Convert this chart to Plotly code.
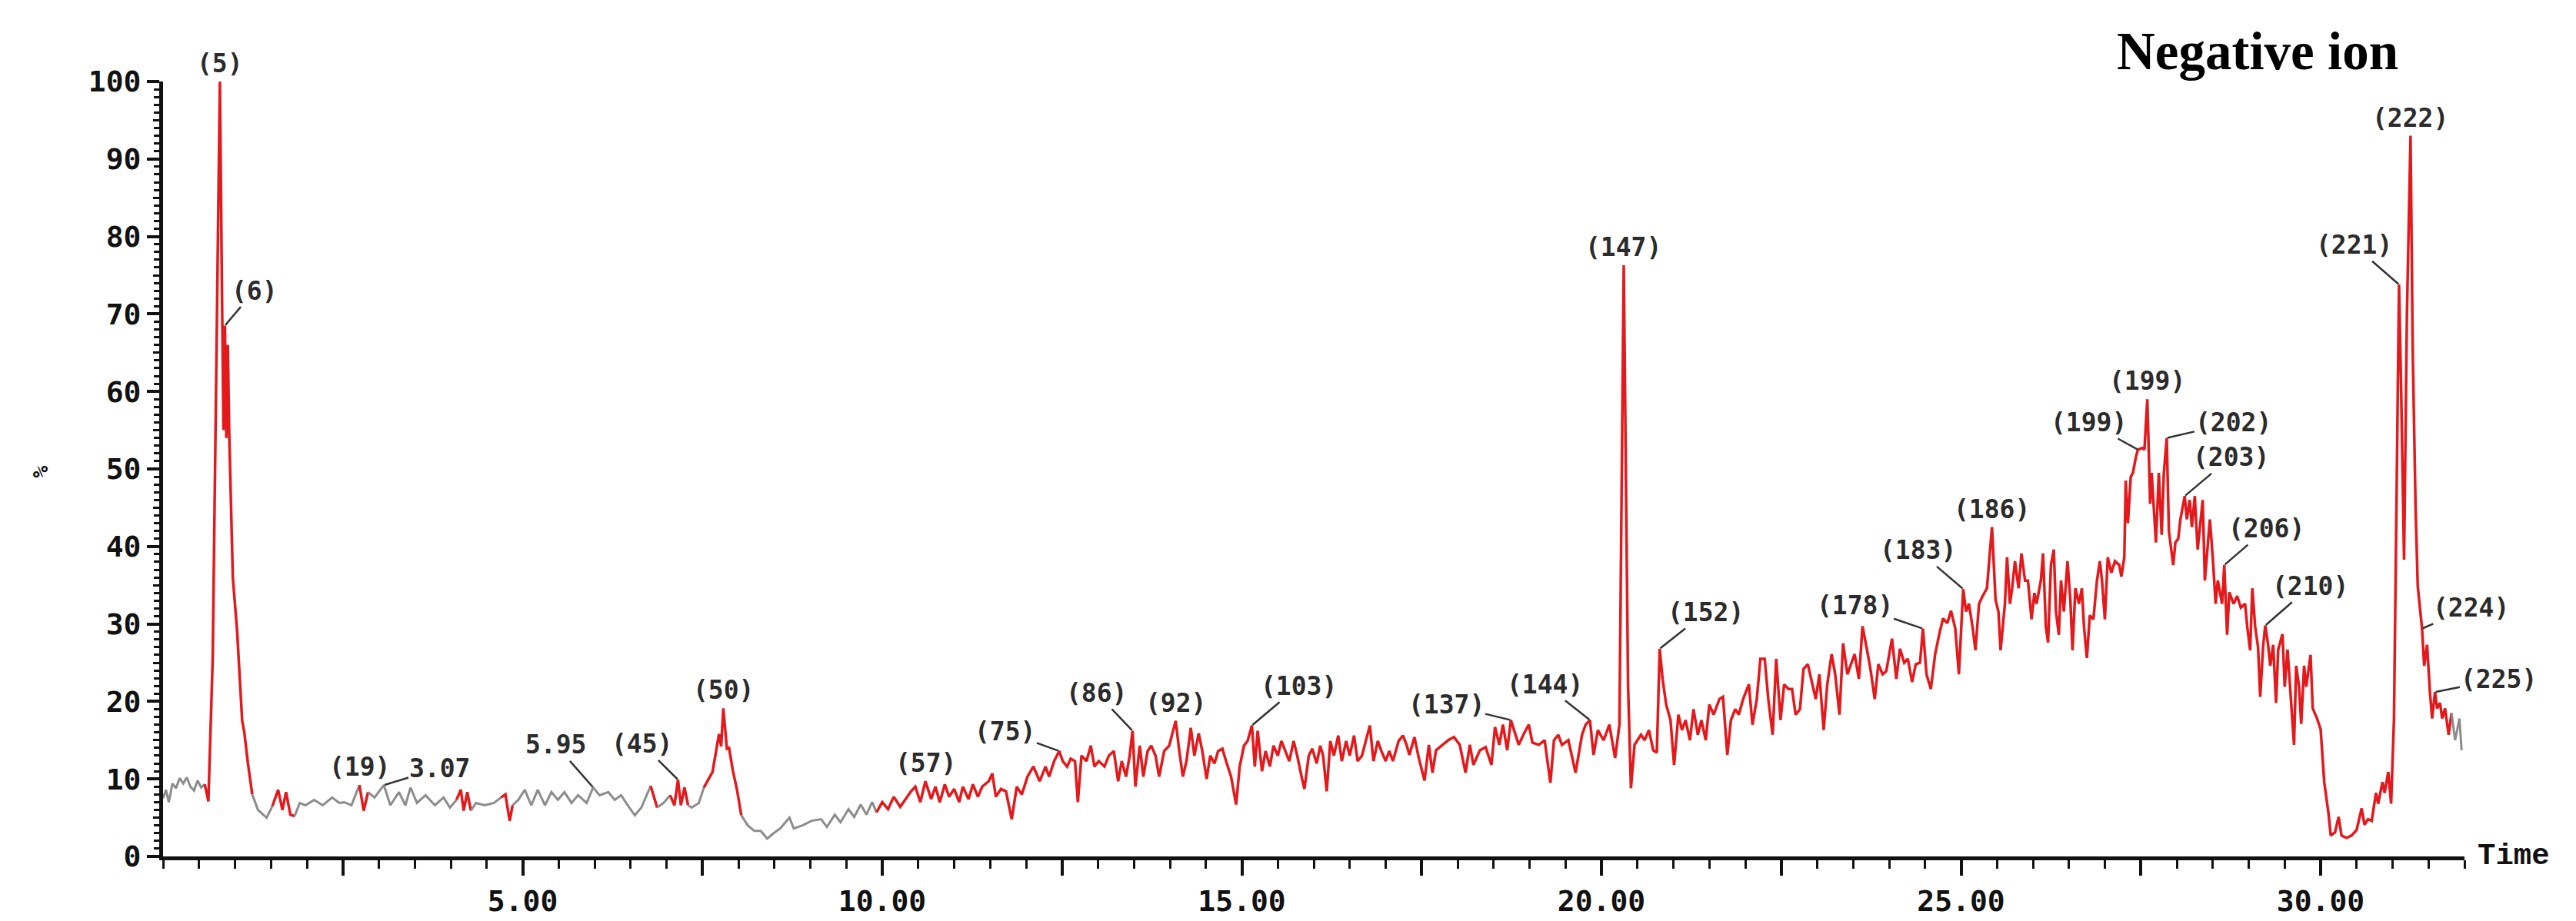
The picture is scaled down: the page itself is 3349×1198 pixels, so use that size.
import plotly.graph_objects as go

# ---------------- data (time in min, relative abundance %) ----------------
trace_0_10 = [
    (0.00, 7.5), (0.04, 8.6), (0.08, 7.0), (0.13, 9.4), (0.18, 8.8), (0.23, 10.1), (0.28, 9.4),
    (0.33, 10.2), (0.38, 9.0), (0.43, 8.5), (0.48, 9.8), (0.53, 8.9), (0.58, 9.3), (0.63, 7.1),
    (0.69, 25.5), (0.79, 100.0), (0.82, 72.0), (0.84, 55.0), (0.86, 68.5), (0.88, 54.0), (0.90, 66.0),
    (0.92, 54.5), (0.97, 36.0), (1.03, 29.0), (1.10, 17.5), (1.13, 16.0), (1.18, 12.0), (1.24, 8.0),
    (1.32, 6.0), (1.44, 5.0), (1.52, 6.5), (1.60, 8.6), (1.66, 6.0), (1.71, 8.3), (1.77, 5.4),
    (1.83, 5.2), (1.90, 6.9), (1.98, 6.6), (2.10, 7.3), (2.22, 6.6), (2.35, 7.6), (2.45, 6.9),
    (2.52, 7.0), (2.62, 6.6), (2.73, 9.2), (2.79, 5.9), (2.85, 8.3), (2.94, 7.6), (3.07, 9.2),
    (3.16, 6.6), (3.28, 8.3), (3.37, 6.6), (3.44, 8.9), (3.53, 6.9), (3.65, 7.9), (3.78, 6.6),
    (3.90, 7.6), (3.99, 6.3), (4.08, 7.3), (4.14, 8.6), (4.18, 5.9), (4.23, 8.3), (4.28, 5.9),
    (4.35, 6.9), (4.47, 6.6), (4.60, 6.9), (4.70, 7.6), (4.76, 8.0), (4.82, 4.6), (4.86, 6.6),
    (4.94, 7.3), (5.03, 8.6), (5.12, 6.6), (5.21, 8.6), (5.31, 6.6), (5.40, 8.3), (5.49, 7.3),
    (5.58, 8.3), (5.68, 6.9), (5.77, 7.9), (5.89, 6.9), (5.98, 8.9), (6.07, 7.9), (6.19, 8.3),
    (6.28, 7.3), (6.37, 7.9), (6.46, 6.6), (6.56, 5.3), (6.65, 6.3), (6.78, 9.1), (6.87, 6.3),
    (6.96, 6.9), (7.05, 7.9), (7.11, 6.6), (7.16, 9.9), (7.20, 6.6), (7.25, 8.9), (7.30, 6.6),
    (7.35, 6.3), (7.45, 6.9), (7.52, 8.9), (7.64, 10.9), (7.73, 15.8), (7.76, 14.2), (7.79, 19.1),
    (7.84, 13.9), (7.87, 14.0), (7.92, 11.2), (7.98, 8.6), (8.04, 5.3), (8.13, 4.0), (8.22, 3.3),
    (8.31, 3.3), (8.40, 2.3), (8.49, 3.0), (8.58, 3.6), (8.71, 5.0), (8.77, 3.6), (8.89, 4.0),
    (9.02, 4.6), (9.15, 4.8), (9.23, 3.8), (9.34, 5.4), (9.42, 4.4), (9.53, 6.1), (9.61, 5.1),
    (9.70, 6.7), (9.78, 5.4), (9.86, 7.0), (9.92, 5.7),
]

trace_10_21 = [
    (10.00, 7.0), (10.08, 6.1), (10.16, 7.7), (10.25, 6.4), (10.33, 7.4), (10.40, 8.4), (10.46, 9.0),
    (10.53, 7.0), (10.60, 9.7), (10.68, 7.4), (10.74, 9.0), (10.80, 7.0), (10.87, 9.3), (10.93, 7.7),
    (11.00, 8.7), (11.07, 7.0), (11.12, 9.0), (11.20, 7.4), (11.26, 9.3), (11.33, 7.7), (11.39, 9.0),
    (11.48, 9.7), (11.53, 10.7), (11.58, 7.7), (11.65, 8.7), (11.72, 8.4), (11.80, 4.8), (11.87, 9.0),
    (11.94, 8.0), (12.02, 10.3), (12.10, 11.6), (12.19, 9.7), (12.27, 11.6), (12.32, 10.3), (12.39, 12.3),
    (12.46, 13.6), (12.51, 12.3), (12.57, 11.6), (12.62, 12.6), (12.68, 12.3), (12.72, 7.0), (12.77, 13.0),
    (12.84, 12.3), (12.90, 14.3), (12.95, 11.6), (13.01, 12.3), (13.09, 11.6), (13.15, 13.0), (13.22, 13.6),
    (13.28, 9.7), (13.33, 12.3), (13.39, 10.3), (13.44, 13.0), (13.48, 16.2), (13.52, 9.0), (13.58, 14.3),
    (13.63, 10.3), (13.69, 13.6), (13.74, 14.3), (13.80, 13.0), (13.85, 10.3), (13.92, 13.6), (13.99, 14.3),
    (14.04, 16.2), (14.08, 17.5), (14.13, 13.6), (14.18, 10.3), (14.23, 12.3), (14.29, 16.6), (14.34, 13.0),
    (14.40, 15.9), (14.45, 13.6), (14.51, 10.0), (14.56, 13.0), (14.62, 12.0), (14.67, 13.6), (14.73, 13.9),
    (14.78, 12.3), (14.85, 10.3), (14.92, 6.7), (14.97, 11.6), (15.03, 14.3), (15.08, 14.9), (15.14, 16.9),
    (15.18, 11.6), (15.22, 16.2), (15.28, 11.0), (15.33, 13.6), (15.39, 11.6), (15.44, 14.3), (15.50, 13.0),
    (15.55, 14.9), (15.61, 13.6), (15.66, 12.3), (15.72, 14.9), (15.77, 13.0), (15.83, 10.3), (15.87, 8.7),
    (15.93, 13.0), (15.98, 13.9), (16.04, 12.0), (16.09, 14.3), (16.13, 13.0), (16.18, 8.4), (16.23, 14.9),
    (16.28, 13.0), (16.34, 15.6), (16.39, 12.3), (16.45, 14.9), (16.50, 13.0), (16.56, 15.6), (16.61, 12.3),
    (16.67, 13.0), (16.72, 14.9), (16.78, 16.9), (16.83, 12.3), (16.89, 14.9), (16.94, 13.6), (17.00, 12.3),
    (17.05, 13.6), (17.10, 12.3), (17.18, 14.9), (17.24, 15.6), (17.29, 14.4), (17.33, 13.1), (17.40, 15.4),
    (17.46, 12.7), (17.54, 9.8), (17.60, 14.4), (17.65, 10.8), (17.70, 13.7), (17.79, 14.4), (17.87, 15.0),
    (17.95, 15.4), (18.03, 14.4), (18.11, 10.8), (18.17, 14.4), (18.22, 11.8), (18.31, 13.7), (18.39, 14.1),
    (18.47, 11.8), (18.52, 16.7), (18.58, 14.4), (18.63, 17.0), (18.69, 13.7), (18.74, 17.6), (18.80, 15.7),
    (18.85, 14.4), (18.93, 16.0), (18.99, 17.0), (19.04, 14.7), (19.13, 14.4), (19.21, 15.0), (19.29, 9.5),
    (19.34, 15.0), (19.40, 15.7), (19.45, 14.4), (19.54, 15.0), (19.64, 10.8), (19.73, 15.7), (19.78, 17.0),
    (19.84, 17.6), (19.89, 13.1), (19.95, 16.3), (20.03, 15.0), (20.11, 17.0), (20.19, 12.7), (20.25, 17.0),
    (20.31, 76.3), (20.37, 22.0), (20.41, 8.8), (20.46, 14.4), (20.55, 15.7), (20.60, 15.0), (20.66, 16.3),
    (20.72, 13.7), (20.77, 13.4),
]

trace_21_26 = [
    (20.81, 26.8), (20.85, 22.9), (20.90, 19.6), (20.96, 17.6), (21.01, 11.8), (21.07, 18.3), (21.12, 16.3),
    (21.17, 17.6), (21.23, 15.0), (21.28, 19.0), (21.34, 15.7), (21.39, 17.6), (21.45, 15.0), (21.50, 19.6),
    (21.56, 18.3), (21.64, 20.3), (21.69, 20.6), (21.75, 13.1), (21.80, 17.6), (21.86, 19.0), (21.91, 18.3),
    (21.97, 20.3), (22.05, 22.2), (22.10, 17.0), (22.16, 20.3), (22.21, 25.5), (22.27, 25.5), (22.32, 20.3),
    (22.38, 15.7), (22.43, 25.5), (22.49, 17.6), (22.54, 22.2), (22.60, 21.6), (22.65, 21.6), (22.70, 18.3),
    (22.76, 19.0), (22.81, 24.2), (22.87, 24.8), (22.92, 22.9), (22.98, 20.3), (23.03, 23.5), (23.09, 16.3),
    (23.14, 22.2), (23.20, 26.1), (23.25, 23.5), (23.31, 18.3), (23.36, 27.5), (23.42, 23.5), (23.47, 24.8),
    (23.52, 26.1), (23.58, 22.9), (23.63, 29.7), (23.69, 26.8), (23.74, 24.2), (23.80, 20.3), (23.85, 24.8),
    (23.91, 23.5), (23.96, 23.9), (24.04, 28.1), (24.10, 22.9), (24.15, 26.8), (24.21, 25.0), (24.26, 25.5),
    (24.32, 22.5), (24.37, 24.8), (24.43, 25.0), (24.47, 29.4), (24.52, 23.5), (24.58, 21.6), (24.64, 26.1),
    (24.70, 28.8), (24.75, 30.7), (24.81, 30.1), (24.86, 31.7), (24.92, 29.4), (24.97, 23.5), (25.03, 34.5),
    (25.07, 31.6), (25.11, 32.6), (25.16, 29.6), (25.20, 26.6), (25.25, 32.6), (25.30, 33.6), (25.36, 34.6),
    (25.43, 42.5), (25.48, 33.1), (25.52, 31.6), (25.55, 26.6), (25.61, 32.6), (25.64, 38.6), (25.68, 32.6),
    (25.71, 34.6), (25.75, 38.1), (25.80, 34.6), (25.84, 39.1), (25.89, 35.6), (25.93, 35.6), (25.98, 30.6),
]

trace_26_32 = [
    (26.02, 34.0), (26.05, 32.6), (26.11, 35.6), (26.14, 39.1), (26.18, 29.6), (26.21, 27.6), (26.25, 37.6),
    (26.29, 39.6), (26.32, 31.6), (26.36, 28.6), (26.39, 35.6), (26.43, 31.6), (26.48, 38.1), (26.52, 33.1),
    (26.55, 26.6), (26.59, 34.6), (26.64, 32.6), (26.68, 34.6), (26.71, 29.6), (26.75, 25.6), (26.79, 31.1),
    (26.84, 30.6), (26.89, 35.6), (26.93, 38.1), (26.96, 35.6), (27.00, 30.6), (27.04, 38.6), (27.09, 36.6),
    (27.14, 38.1), (27.20, 37.6), (27.23, 36.1), (27.27, 38.6), (27.29, 48.5), (27.32, 43.0), (27.36, 49.0),
    (27.39, 49.5), (27.43, 51.5), (27.46, 52.5), (27.52, 52.7), (27.55, 52.5), (27.59, 59.0), (27.63, 45.5),
    (27.65, 49.5), (27.68, 44.5), (27.71, 40.5), (27.75, 49.5), (27.79, 41.5), (27.82, 49.5), (27.86, 54.0),
    (27.89, 42.0), (27.95, 37.6), (27.98, 40.5), (28.02, 41.0), (28.05, 43.5), (28.11, 46.5), (28.14, 43.5),
    (28.18, 46.0), (28.21, 42.5), (28.25, 46.5), (28.29, 39.6), (28.32, 42.5), (28.36, 46.0), (28.39, 35.6),
    (28.43, 39.6), (28.46, 43.5), (28.50, 38.6), (28.54, 32.6), (28.57, 35.6), (28.63, 32.6), (28.66, 37.6),
    (28.70, 28.6), (28.73, 34.1), (28.79, 32.6), (28.84, 33.6), (28.89, 32.1), (28.95, 32.6), (28.98, 29.6),
    (29.02, 26.6), (29.05, 34.6), (29.09, 29.6), (29.13, 27.0), (29.16, 20.6), (29.20, 27.1), (29.23, 29.8),
    (29.27, 27.3), (29.30, 24.6), (29.34, 27.3), (29.38, 19.8), (29.41, 26.7), (29.47, 28.7), (29.50, 21.9),
    (29.54, 26.7), (29.59, 19.1), (29.63, 14.4), (29.66, 24.6), (29.70, 21.9), (29.73, 17.1), (29.77, 24.6),
    (29.80, 21.9), (29.84, 24.6), (29.86, 26.0), (29.89, 19.1), (29.95, 17.8), (30.00, 16.4), (30.05, 9.6),
    (30.11, 5.5), (30.14, 2.7), (30.20, 3.1), (30.25, 5.1), (30.29, 2.7), (30.36, 2.4), (30.43, 2.7),
    (30.50, 3.4), (30.57, 6.2), (30.61, 4.1), (30.66, 4.8), (30.71, 4.6), (30.77, 8.2), (30.80, 6.8),
    (30.86, 9.6), (30.89, 8.2), (30.94, 10.9), (30.98, 6.8), (31.02, 17.8), (31.05, 45.1), (31.09, 73.8),
    (31.12, 60.0), (31.16, 38.3), (31.20, 70.0), (31.25, 93.0), (31.28, 65.6), (31.32, 45.1), (31.35, 34.9),
    (31.41, 29.4), (31.44, 24.6), (31.48, 27.3), (31.52, 21.2), (31.55, 17.8), (31.59, 21.2), (31.62, 19.1),
    (31.66, 19.8), (31.69, 17.8), (31.73, 19.1), (31.78, 15.7), (31.82, 18.5), (31.87, 15.0), (31.93, 17.8),
    (31.96, 13.7),
]

# integrated (red) time windows
red_windows = [(0.60, 1.27), (1.55, 1.86), (2.68, 2.83), (4.10, 4.30), (4.72, 4.88),
               (6.72, 6.88), (7.08, 7.32), (7.50, 8.06), (9.90, 31.80)]

# peak labels: text, peak time, peak value, label time, label value (None = directly above)
peak_labels = [
    ("(5)", 0.79, 100.0, None, None),
    ("(6)", 0.86, 68.5, 1.27, 73.0),
    ("(19)", 2.73, 9.2, None, None),
    ("3.07", 3.07, 9.2, 3.85, 11.4),
    ("5.95", 5.98, 8.9, 5.46, 14.4),
    ("(45)", 7.16, 9.9, 6.66, 14.5),
    ("(50)", 7.79, 19.1, None, None),
    ("(57)", 10.60, 9.7, None, None),
    ("(75)", 12.46, 13.6, 11.71, 16.1),
    ("(86)", 13.48, 16.2, 12.98, 21.1),
    ("(92)", 14.08, 17.5, None, None),
    ("(103)", 15.14, 16.9, 15.79, 22.0),
    ("(137)", 18.74, 17.6, 17.84, 19.6),
    ("(144)", 19.84, 17.6, 19.21, 22.2),
    ("(147)", 20.31, 76.3, None, None),
    ("(152)", 20.81, 26.8, 21.45, 31.5),
    ("(178)", 24.47, 29.4, 23.52, 32.4),
    ("(183)", 25.03, 34.5, 24.40, 39.5),
    ("(186)", 25.43, 42.5, None, None),
    ("(199)", 27.46, 52.5, 26.77, 56.0),
    ("(199)", 27.59, 59.0, None, None),
    ("(202)", 27.86, 54.0, 28.79, 56.0),
    ("(203)", 28.11, 46.5, 28.75, 51.5),
    ("(206)", 28.66, 37.6, 29.25, 42.3),
    ("(210)", 29.23, 29.8, 29.86, 34.9),
    ("(221)", 31.09, 73.8, 30.46, 78.9),
    ("(222)", 31.25, 93.0, None, None),
    ("(224)", 31.41, 29.4, 32.09, 32.1),
    ("(225)", 31.59, 21.2, 32.48, 22.9),
]

x_tickvals = [2.5, 5, 7.5, 10, 12.5, 15, 17.5, 20, 22.5, 25, 27.5, 30]
x_ticktext = ["", "5.00", "", "10.00", "", "15.00", "", "20.00", "", "25.00", "", "30.00"]
y_tickvals = [0, 10, 20, 30, 40, 50, 60, 70, 80, 90, 100]

# ---------------- build figure ----------------
RED = "#e3191c"
GREY = "#8c8c8c"
points = trace_0_10 + trace_10_21 + trace_21_26 + trace_26_32
times = [p[0] for p in points]
vals = [p[1] for p in points]


def is_red(t):
    return any(a <= t <= b for a, b in red_windows)


segments = []
cur_c, cx, cy = None, [], []
for i in range(len(times) - 1):
    c = RED if is_red((times[i] + times[i + 1]) / 2) else GREY
    if c != cur_c:
        if cx:
            segments.append((cur_c, cx, cy))
        cur_c, cx, cy = c, [times[i]], [vals[i]]
    cx.append(times[i + 1])
    cy.append(vals[i + 1])
segments.append((cur_c, cx, cy))

fig = go.Figure()
for c, sx, sy in segments:
    fig.add_trace(go.Scatter(x=sx, y=sy, mode="lines",
                             line=dict(color=c, width=3.5 if c == RED else 3),
                             showlegend=False, hoverinfo="skip"))

# invisible trace on overlay axis so that medium ticks render
fig.add_trace(go.Scatter(x=[0], y=[0], yaxis="y2", mode="markers",
                         marker=dict(opacity=0), showlegend=False, hoverinfo="skip"))

mono = "DejaVu Sans Mono"
lab_font = dict(family=mono, size=33, color="#2b2b2b", weight="bold")

annotations = []
for text, pt, pv, lt, lv in peak_labels:
    if lt is None:
        annotations.append(dict(x=pt, y=pv, xref="x", yref="y", text=text, showarrow=False,
                                yanchor="bottom", yshift=2, font=lab_font))
    else:
        annotations.append(dict(x=pt, y=pv, xref="x", yref="y", ax=lt, ay=lv,
                                axref="x", ayref="y", text=text, showarrow=True,
                                arrowhead=0, arrowwidth=2.5, arrowcolor="#333333",
                                standoff=1, font=lab_font))

annotations.append(dict(x=0.910, y=1.039, xref="paper", yref="paper", text="Negative ion",
                        showarrow=False, xanchor="center", yanchor="middle",
                        font=dict(family="Liberation Serif", size=69, color="#000000", weight="bold")))
annotations.append(dict(x=1.0214, y=0.0, xref="paper", yref="paper", text="Time",
                        showarrow=False, xanchor="center", yanchor="middle",
                        font=dict(family="Liberation Mono", size=39, color="#111111", weight="bold")))
annotations.append(dict(x=-0.053, y=0.497, xref="paper", yref="paper", text="%",
                        showarrow=False, xanchor="center", yanchor="middle", textangle=-90,
                        font=dict(family=mono, size=26, color="#111111", weight="bold")))

tick_font = dict(family=mono, size=38, color="#111111", weight="bold")

fig.update_layout(
    width=3349, height=1198,
    margin=dict(l=204, r=153, t=98, b=79),
    paper_bgcolor="white", plot_bgcolor="white",
    showlegend=False,
    annotations=annotations,
    xaxis=dict(range=[0, 32], showline=True, linecolor="#111111", linewidth=5,
               showgrid=False, zeroline=False,
               tickmode="array", tickvals=x_tickvals, ticktext=x_ticktext,
               ticks="outside", ticklen=20, tickwidth=4, tickcolor="#111111",
               tickfont=tick_font,
               minor=dict(tickmode="linear", tick0=0, dtick=0.5, ticks="outside",
                          ticklen=11, tickwidth=3, tickcolor="#111111", showgrid=False)),
    yaxis=dict(range=[0, 100], showline=True, linecolor="#111111", linewidth=5,
               showgrid=False, zeroline=False,
               tickmode="array", tickvals=y_tickvals,
               ticks="outside", ticklen=16, tickwidth=4, tickcolor="#111111",
               tickfont=tick_font,
               minor=dict(tickmode="linear", tick0=0, dtick=1, ticks="outside",
                          ticklen=7, tickwidth=2.5, tickcolor="#111111", showgrid=False)),
    yaxis2=dict(range=[0, 100], overlaying="y", side="left", showline=False,
                showgrid=False, zeroline=False, showticklabels=False,
                tickmode="linear", tick0=5, dtick=10, ticks="outside", ticklen=12,
                tickwidth=3, tickcolor="#111111"),
)

fig.write_html("out.html")
